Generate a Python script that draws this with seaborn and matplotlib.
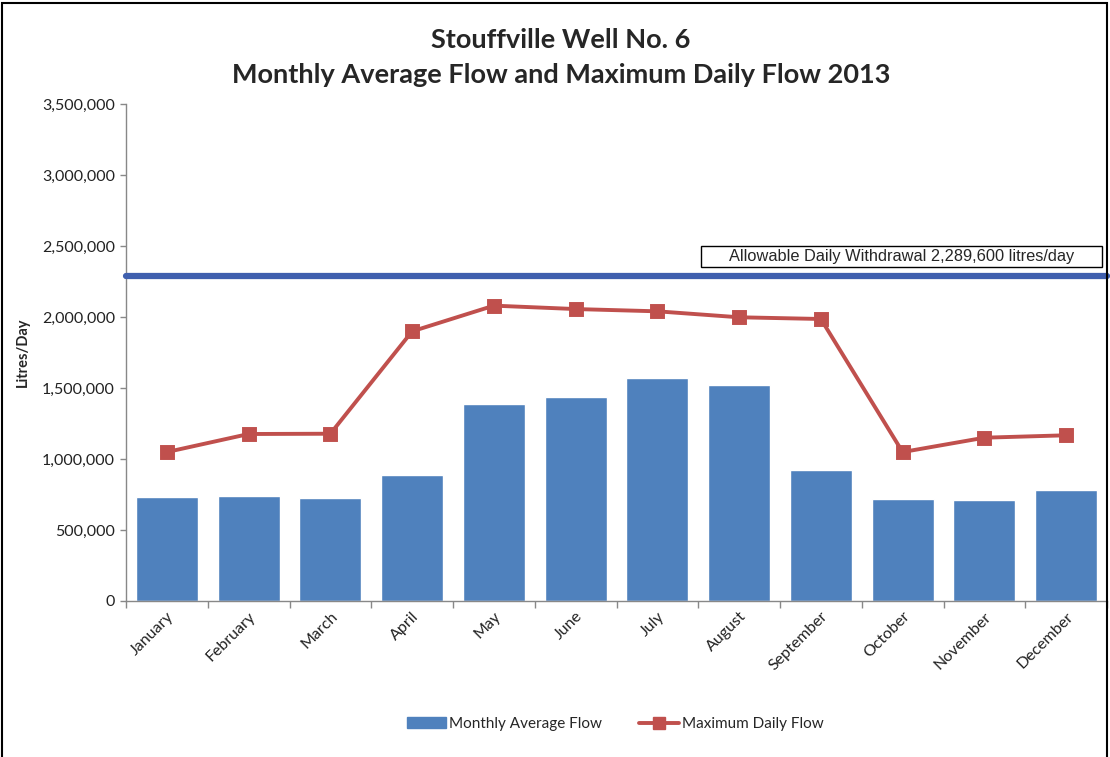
import matplotlib
matplotlib.use("Agg")
import matplotlib.pyplot as plt
import seaborn as sns
import pandas as pd
from matplotlib.patches import Patch, Rectangle
from matplotlib.lines import Line2D
from matplotlib.ticker import FuncFormatter, FixedLocator

# --- data ---
months = ["January", "February", "March", "April", "May", "June",
          "July", "August", "September", "October", "November", "December"]
avg_flow = [732000, 742000, 728000, 885000, 1385000, 1434000,
            1570000, 1523000, 925000, 718000, 709000, 780000]
max_flow = [1049000, 1176000, 1178000, 1899000, 2080000, 2056000,
            2040000, 1998000, 1986000, 1049000, 1150000, 1167000]
allowable = 2289600

bar_color = "#4F81BD"
line_color = "#C0504D"
limit_color = "#3F5FAE"

sns.set_style("white")
plt.rcParams["font.family"] = ["Lato", "DejaVu Sans"]

df = pd.DataFrame({"month": months, "avg": avg_flow, "max": max_flow})

fig = plt.figure(figsize=(11.1, 7.57), dpi=100)
ax = fig.add_axes([126 / 1110, 1 - 601 / 757, 981 / 1110, 497 / 757])

sns.barplot(data=df, x="month", y="avg", color=bar_color, saturation=1,
            width=0.76, ax=ax, zorder=2)
sns.pointplot(data=df, x="month", y="max", color=line_color, marker="s",
              markersize=8, linewidth=2.8, ax=ax, zorder=4)
ax.axhline(allowable, color=limit_color, lw=4.5, zorder=3, clip_on=False)

ax.set_xlim(-0.5, 11.5)
ax.set_ylim(0, 3500000)
ax.set_yticks(range(0, 3500001, 500000))
ax.yaxis.set_major_formatter(FuncFormatter(lambda v, p: f"{int(v):,}"))
ax.tick_params(axis="y", labelsize=11.5, colors="#222222", length=4, width=1,
               direction="out", left=True, color="#888888", pad=4)

# labels centred on bars, tick marks between categories
ax.tick_params(axis="x", which="major", length=0, labelsize=11.5, pad=6)
ax.xaxis.set_minor_locator(FixedLocator([i - 0.5 for i in range(13)]))
ax.tick_params(axis="x", which="minor", length=5, width=1, color="#888888",
               bottom=True, direction="out")
for lbl in ax.get_xticklabels():
    lbl.set_rotation(45)
    lbl.set_ha("right")
    lbl.set_rotation_mode("anchor")
    lbl.set_color("#222222")

ax.set_xlabel("")
ax.set_ylabel("Litres/Day", fontsize=10.5, fontweight="bold")
ax.yaxis.set_label_coords(-96 / 981, 0.5)

sns.despine(ax=ax)
for s in ["left", "bottom"]:
    ax.spines[s].set_color("#888888")
    ax.spines[s].set_linewidth(1)

# annotation box for the allowable withdrawal
ax.add_patch(Rectangle((575 / 981, 334 / 497), 401 / 981, 21 / 497,
                       transform=ax.transAxes, facecolor="white",
                       edgecolor="black", lw=1, zorder=5, clip_on=False))
ax.text(776 / 981, 344 / 497, "Allowable Daily Withdrawal 2,289,600 litres/day",
        transform=ax.transAxes, ha="center", va="center", fontsize=11.8,
        family="Liberation Sans", zorder=6)

# titles
fig.text(561 / 1110, 1 - 40 / 757, "Stouffville Well No. 6", ha="center",
         va="center", fontsize=19.5, fontweight="bold")
fig.text(561 / 1110, 1 - 75 / 757,
         "Monthly Average Flow and Maximum Daily Flow 2013", ha="center",
         va="center", fontsize=19.5, fontweight="bold")

# legend
handles = [Patch(facecolor=bar_color, edgecolor=bar_color),
           Line2D([0], [0], color=line_color, lw=2.8, marker="s", markersize=8)]
fig.legend(handles, ["Monthly Average Flow", "Maximum Daily Flow"],
           loc="center", bbox_to_anchor=(615 / 1110, 1 - 724 / 757), ncol=2,
           frameon=False, fontsize=11, handlelength=2.6, handleheight=0.7,
           handletextpad=0.2, columnspacing=2.4)

# outer frame of the chart
fig.add_artist(Rectangle((2 / 1110, -0.02), 1105 / 1110, 1.0155, fill=False,
                         edgecolor="black", lw=1.5, transform=fig.transFigure,
                         clip_on=False))

fig.savefig("out.png", dpi=100)
